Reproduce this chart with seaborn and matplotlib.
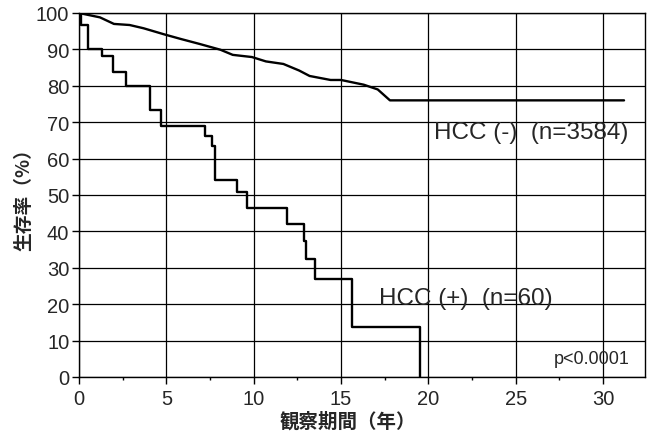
import matplotlib
matplotlib.use("Agg")
import matplotlib.pyplot as plt
import seaborn as sns
import pandas as pd
from matplotlib.ticker import MultipleLocator

# survival curves (years, %)
hcc_neg_years = [0, 0.5, 1.2, 2.0, 2.9, 3.7, 4.9, 5.8, 6.9, 8.1, 8.8, 9.9, 10.7,
                 11.7, 12.6, 13.2, 14.4, 15.0, 16.3, 17.1, 17.8, 31.2]
hcc_neg_surv = [100, 99.5, 98.8, 97.0, 96.7, 95.8, 94.1, 92.9, 91.5, 89.9, 88.5, 87.9, 86.7,
                86.0, 84.2, 82.7, 81.6, 81.6, 80.3, 79.0, 76.0, 76.0]

hcc_pos_years = [0, 0.1, 0.5, 1.3, 1.95, 2.7, 4.05, 4.7, 7.2, 7.6, 7.8, 9.05, 9.6,
                 11.9, 12.9, 13.0, 13.5, 15.6, 19.5, 19.5]
hcc_pos_surv = [100, 96.7, 90.0, 88.3, 83.8, 80.0, 73.4, 68.9, 66.3, 63.4, 54.2, 50.7, 46.3,
                41.9, 37.3, 32.5, 27.0, 13.6, 0, 0]

label_neg = "HCC (-)  (n=3584)"
label_pos = "HCC (+)  (n=60)"
p_text = "p<0.0001"
x_label = "観察期間（年）"
y_label = "生存率（%）"

neg = pd.DataFrame({"years": hcc_neg_years, "surv": hcc_neg_surv})
pos = pd.DataFrame({"years": hcc_pos_years, "surv": hcc_pos_surv})

sns.set_style("white")
plt.rcParams["font.family"] = ["Liberation Sans", "Noto Sans CJK JP", "DejaVu Sans"]

fig = plt.figure(figsize=(6.47, 4.35), dpi=100)
ax = fig.add_axes([79 / 647, 1 - 378 / 435, 566 / 647, 364 / 435])

sns.lineplot(data=neg, x="years", y="surv", ax=ax, color="black", linewidth=1.7,
             estimator=None, sort=False)
sns.lineplot(data=pos, x="years", y="surv", ax=ax, color="black", linewidth=1.7,
             estimator=None, sort=False, drawstyle="steps-post")

ax.set_xlim(0, 32.4)
ax.set_ylim(0, 100)
ax.xaxis.set_major_locator(MultipleLocator(5))
ax.xaxis.set_minor_locator(MultipleLocator(2.5))
ax.yaxis.set_major_locator(MultipleLocator(10))
ax.grid(True, which="major", color="black", linewidth=0.9)
ax.set_axisbelow(True)
for s in ax.spines.values():
    s.set_color("black")
    s.set_linewidth(1.0)
ax.tick_params(axis="both", which="major", direction="out", length=5, width=1,
               color="black", labelsize=14.5, pad=2)
ax.tick_params(axis="x", which="minor", direction="out", length=2.5, width=1, color="black")
ax.tick_params(axis="x", which="major", pad=4)
ax.tick_params(left=True, bottom=True)
ax.tick_params(axis="x", which="minor", bottom=True)

ax.set_xlabel(x_label, fontsize=14, fontweight="bold", family=["Noto Sans CJK JP"])
ax.set_ylabel(y_label, fontsize=13.5, fontweight="bold", family=["Noto Sans CJK JP"])
ax.xaxis.set_label_coords(0.475, -0.093)
ax.yaxis.set_label_coords(-0.08, 0.503)

ax.text(20.3, 67.4, label_neg, fontsize=17.5, ha="left", va="center")
ax.text(17.2, 21.6, label_pos, fontsize=17.5, ha="left", va="center")
ax.text(27.2, 5.2, p_text, fontsize=13, ha="left", va="center")

fig.savefig("out.png", dpi=100)
